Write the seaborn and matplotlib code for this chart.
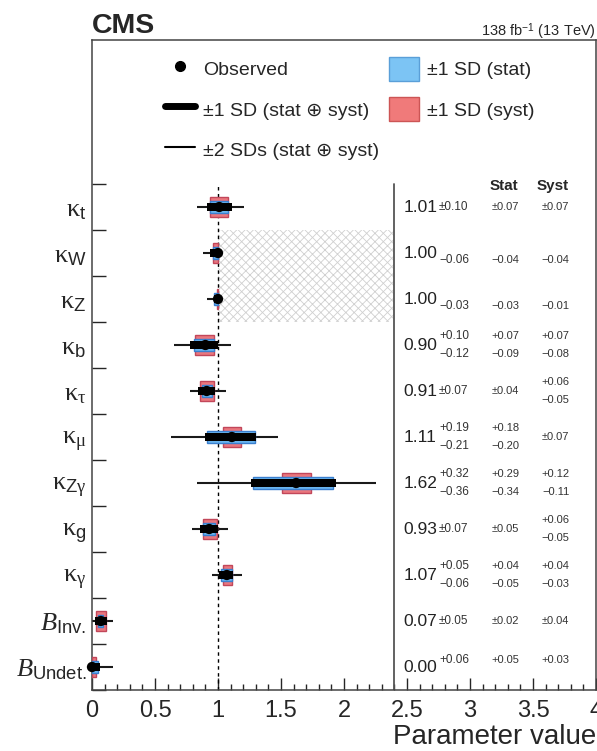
import numpy as np
import pandas as pd
import matplotlib
matplotlib.use("Agg")
import matplotlib.pyplot as plt
import seaborn as sns
from matplotlib.lines import Line2D
from matplotlib.patches import Patch, Rectangle

# ----------------------------
# Dados
# ----------------------------
params = [r"$\mathrm{\kappa}_\mathsf{t}$", r"$\mathrm{\kappa}_\mathsf{W}$", r"$\mathrm{\kappa}_\mathsf{Z}$",
          r"$\mathrm{\kappa}_\mathsf{b}$", r"$\mathrm{\kappa}_\mathrm{\tau}$", r"$\mathrm{\kappa}_\mathrm{\mu}$",
          r"$\mathrm{\kappa}_{\mathsf{Z}\mathrm{\gamma}}$", r"$\mathrm{\kappa}_\mathsf{g}$",
          r"$\mathrm{\kappa}_\mathrm{\gamma}$", r"$\mathit{B}_\mathsf{Inv.}$", r"$\mathit{B}_\mathsf{Undet.}$"]
observed = [1.01, 1.00, 1.00, 0.90, 0.91, 1.11, 1.62, 0.93, 1.07, 0.07, 0.00]
tot_hi = [0.10, 0.00, 0.00, 0.10, 0.07, 0.19, 0.32, 0.07, 0.05, 0.05, 0.06]
tot_lo = [0.10, 0.06, 0.03, 0.12, 0.07, 0.21, 0.36, 0.07, 0.06, 0.05, 0.00]
stat_hi = [0.07, 0.00, 0.00, 0.07, 0.04, 0.18, 0.29, 0.05, 0.04, 0.02, 0.05]
stat_lo = [0.07, 0.04, 0.03, 0.09, 0.04, 0.20, 0.34, 0.05, 0.05, 0.02, 0.00]
syst_hi = [0.07, 0.00, 0.00, 0.07, 0.06, 0.07, 0.12, 0.06, 0.04, 0.04, 0.03]
syst_lo = [0.07, 0.04, 0.01, 0.08, 0.05, 0.07, 0.11, 0.05, 0.03, 0.04, 0.00]
two_sd_lo = [0.83, 0.88, 0.91, 0.65, 0.78, 0.63, 0.83, 0.79, 0.95, 0.00, 0.00]
two_sd_hi = [1.21, 1.00, 1.00, 1.10, 1.06, 1.48, 2.25, 1.08, 1.19, 0.17, 0.17]

x_ticks = [0, 0.5, 1, 1.5, 2, 2.5, 3, 3.5, 4]
x_ticklabels = ["0", "0.5", "1", "1.5", "2", "2.5", "3", "3.5", "4"]

sm_value = 1.0      # linha tracejada (SM)
table_x = 2.4       # separador da tabela
hatch_rows = (8, 10)  # kW e kZ limitados a <= 1

# ----------------------------
# Estilo
# ----------------------------
sns.set_theme(style="ticks")
plt.rcParams["font.family"] = ["Liberation Sans", "DejaVu Sans"]
plt.rcParams["mathtext.fontset"] = "custom"
plt.rcParams["mathtext.rm"] = "Liberation Serif"
plt.rcParams["mathtext.it"] = "Liberation Serif:italic"
plt.rcParams["mathtext.sf"] = "Liberation Sans"
plt.rcParams["hatch.linewidth"] = 0.6

c_blue, c_blue_e = "#6ab4ee", "#3a7fcf"
c_red, c_red_e = "#ea777e", "#c2475a"

n = len(params)
ypos = np.arange(n)[::-1] + 0.5
df = pd.DataFrame({"obs": observed, "y": ypos})

fig = plt.figure(figsize=(5.97, 7.51), dpi=100)
ax = fig.add_axes([92 / 597, 61 / 751, 504 / 597, 650 / 751])

# hachurado (kW, kZ)
ax.add_patch(Rectangle((sm_value, hatch_rows[0]), table_x - sm_value, hatch_rows[1] - hatch_rows[0],
                       fill=False, hatch="xxxx", edgecolor="#d0d0d0", lw=0, zorder=0))

ax.plot([sm_value, sm_value], [0, n], ls=(0, (2.5, 2.5)), color="black", lw=1, zorder=1)
ax.plot([table_x, table_x], [0, n], color="#555555", lw=1.3, zorder=1)

obs = np.array(observed)
# +-2 SD
ax.hlines(ypos, two_sd_lo, two_sd_hi, color="#1a1a1a", lw=1.5, zorder=2)
# syst
ax.barh(ypos, np.array(syst_lo) + np.array(syst_hi), left=obs - np.array(syst_lo), height=0.44,
        color=c_red, edgecolor=c_red_e, lw=1, zorder=3)
# stat
ax.barh(ypos, np.array(stat_lo) + np.array(stat_hi), left=obs - np.array(stat_lo), height=0.28,
        color=c_blue, edgecolor=c_blue_e, lw=1, zorder=4)
# total
ax.barh(ypos, np.array(tot_lo) + np.array(tot_hi), left=obs - np.array(tot_lo), height=0.16,
        color="black", lw=0, zorder=5)
# observado
sns.scatterplot(data=df, x="obs", y="y", color="black", s=55, edgecolor="none", zorder=6,
                ax=ax, clip_on=False, legend=False)


# ----------------------------
# Tabela de valores
# ----------------------------
def fmt(v):
    return f"{v:.2f}"


def err_text(x, y, hi, lo, size, ha, off=0.2):
    if hi == lo and hi > 0:
        ax.text(x, y, "±" + fmt(hi), fontsize=size, ha=ha, va="center", color="#333333")
        return
    if hi > 0:
        ax.text(x, y + off, "+" + fmt(hi), fontsize=size, ha=ha, va="center", color="#333333")
    if lo > 0:
        ax.text(x, y - off, "−" + fmt(lo), fontsize=size, ha=ha, va="center", color="#333333")


for i in range(n):
    y = ypos[i]
    one_sided = (tot_hi[i] == 0) != (tot_lo[i] == 0)
    off = 0.15 if one_sided else 0.2
    ax.text(2.47, y, fmt(observed[i]), fontsize=12.5, ha="left", va="center", color="#222222")
    err_text(2.755, y, tot_hi[i], tot_lo[i], 8.5, "left", off)
    err_text(3.28, y, stat_hi[i], stat_lo[i], 8, "center", off)
    err_text(3.68, y, syst_hi[i], syst_lo[i], 8, "center", off)

ax.text(3.27, 10.95, "Stat", fontsize=11, fontweight="bold", ha="center", va="center")
ax.text(3.66, 10.95, "Syst", fontsize=11, fontweight="bold", ha="center", va="center")

# ----------------------------
# Eixos
# ----------------------------
ax.set_xlim(0, 4)
ax.set_ylim(0, 650 / 46)
ax.set_xticks(x_ticks)
ax.set_xticklabels(x_ticklabels, fontsize=17)
ax.set_xticks(np.arange(0, 4.01, 0.1), minor=True)
ax.tick_params(axis="x", which="major", direction="in", length=9, width=1, pad=7)
ax.tick_params(axis="x", which="minor", direction="in", length=4.5, width=1)
ax.set_yticks(ypos)
ax.set_yticklabels(params, fontsize=19)
ax.set_yticks(np.arange(0, n + 1), minor=True)
ax.tick_params(axis="y", which="major", length=0, pad=4)
ax.tick_params(axis="y", which="minor", direction="in", length=10, width=1)
for s in ax.spines.values():
    s.set_color("#444444")
    s.set_linewidth(1.1)
ax.set_xlabel("Parameter value", loc="right", fontsize=20, labelpad=2)
ax.set_ylabel("")

fig.text(92 / 597, 1 - 33 / 751, "CMS", fontsize=20.5, fontweight="bold", ha="left", va="baseline")
fig.text(596 / 597, 1 - 36 / 751, r"138 fb$^{\mathsf{-1}}$ (13 TeV)", fontsize=10.5, ha="right",
         va="baseline")

# legenda
handles = [
    Line2D([], [], marker="o", color="black", ls="none", markersize=7),
    Line2D([], [], color="black", lw=5),
    Line2D([], [], color="black", lw=1.5),
    Patch(facecolor="#7cc4f4", edgecolor="#5a9fd8"),
    Patch(facecolor="#f07a7a", edgecolor="#cc5555"),
]
labels = ["Observed", "±1 SD (stat ⊕ syst)", "±2 SDs (stat ⊕ syst)", "±1 SD (stat)", "±1 SD (syst)"]
fig.legend(handles, labels, ncol=2, loc="upper left", bbox_to_anchor=(165 / 597, 1 - 57 / 751),
           frameon=False, fontsize=14, handlelength=1.55, handleheight=1.5, handletextpad=0.4,
           labelspacing=0.85, columnspacing=0.5, borderpad=0, borderaxespad=0)

fig.savefig("out.png", dpi=100)
